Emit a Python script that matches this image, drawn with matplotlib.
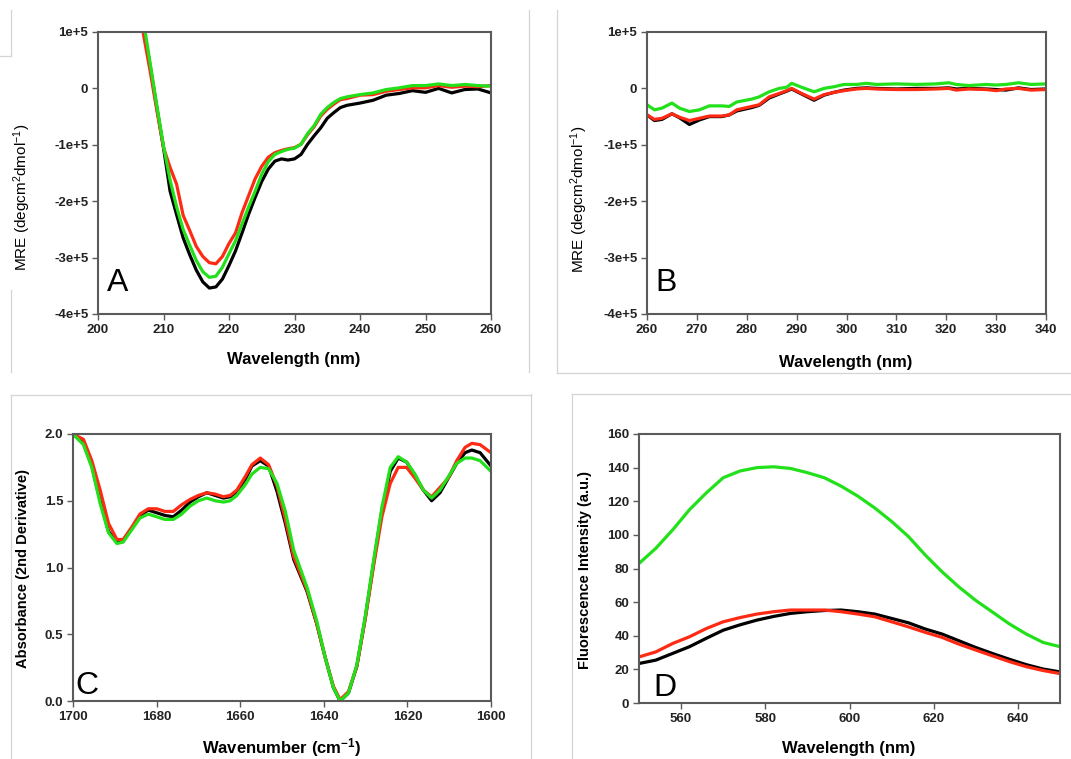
import matplotlib
matplotlib.use("Agg")
import matplotlib.pyplot as plt
from matplotlib.lines import Line2D
from matplotlib.ticker import FixedLocator, FuncFormatter

plt.rcParams['font.family'] = ['Liberation Sans', 'DejaVu Sans']
plt.rcParams['mathtext.default'] = 'regular'

# === Panel A: far-UV CD (MRE in units of 1e5) ===
wl_a = [206, 207, 208, 209, 210, 211, 212, 213, 214, 215, 216, 217, 218, 219, 220,
        221, 222, 223, 224, 225, 226, 227, 228, 229, 230, 231, 232, 233, 234, 235,
        236, 237, 238, 240, 242, 244, 246, 248, 250, 252, 254, 256, 258, 260]
a_black = [1.75, 1.05, 0.37, -0.35, -1.05, -1.82, -2.24, -2.65, -2.95, -3.22, -3.43, -3.54,
           -3.52, -3.38, -3.14, -2.88, -2.56, -2.23, -1.93, -1.65, -1.43, -1.29, -1.25, -1.27,
           -1.25, -1.17, -0.99, -0.84, -0.70, -0.53, -0.43, -0.34, -0.30, -0.26, -0.21, -0.12,
           -0.09, -0.04, -0.07, 0.00, -0.08, -0.02, -0.01, -0.08]
a_red = [1.65, 0.92, 0.28, -0.40, -1.05, -1.40, -1.70, -2.25, -2.52, -2.80, -2.98, -3.09,
         -3.11, -2.98, -2.75, -2.56, -2.20, -1.90, -1.60, -1.38, -1.22, -1.14, -1.10, -1.07,
         -1.05, -0.99, -0.82, -0.68, -0.49, -0.37, -0.28, -0.20, -0.18, -0.12, -0.11, -0.05,
         -0.02, 0.01, 0.01, 0.05, 0.02, 0.04, 0.03, 0.05]
a_green = [1.85, 1.15, 0.42, -0.32, -1.02, -1.62, -2.10, -2.50, -2.78, -3.05, -3.25, -3.35,
           -3.33, -3.17, -2.93, -2.70, -2.40, -2.10, -1.82, -1.52, -1.30, -1.17, -1.12, -1.08,
           -1.06, -0.99, -0.80, -0.66, -0.46, -0.34, -0.25, -0.18, -0.15, -0.11, -0.08, -0.02,
           0.01, 0.05, 0.05, 0.08, 0.05, 0.07, 0.05, 0.04]

# === Panel B: near-UV CD (MRE in units of 1e5) ===
wl_b = [260, 261.5, 263, 265, 266.5, 268.5, 270.5, 272.5, 275, 276.5, 278, 281, 282.5,
        284.5, 286.5, 288, 289, 291, 293.5, 295.5, 297.5, 299.5, 302, 304, 306, 310, 314,
        318, 320.5, 322, 324.5, 328, 330, 332, 334.5, 337, 340]
b_black = [-0.47, -0.57, -0.55, -0.45, -0.52, -0.64, -0.56, -0.50, -0.50, -0.47, -0.40, -0.34,
           -0.30, -0.17, -0.10, -0.05, -0.01, -0.10, -0.21, -0.12, -0.07, -0.03, 0.00, 0.01,
           0.00, -0.01, 0.00, 0.00, 0.01, -0.01, 0.00, -0.01, -0.02, -0.03, 0.01, -0.02, -0.01]
b_red = [-0.47, -0.55, -0.53, -0.45, -0.51, -0.57, -0.53, -0.49, -0.49, -0.47, -0.38, -0.32,
         -0.29, -0.15, -0.09, -0.04, 0.00, -0.09, -0.19, -0.11, -0.07, -0.04, -0.01, 0.00,
         -0.01, -0.02, -0.02, -0.01, 0.00, -0.03, -0.01, -0.02, -0.04, -0.01, 0.00, -0.03, -0.02]
b_green = [-0.29, -0.38, -0.35, -0.26, -0.35, -0.41, -0.38, -0.31, -0.31, -0.32, -0.24, -0.19,
           -0.15, -0.06, 0.00, 0.02, 0.09, 0.02, -0.06, 0.00, 0.03, 0.07, 0.07, 0.09, 0.07,
           0.08, 0.07, 0.08, 0.10, 0.07, 0.05, 0.07, 0.06, 0.07, 0.10, 0.07, 0.08]

# === Panel C: FTIR 2nd derivative ===
wn_c = [1700, 1697.5, 1695.5, 1693.5, 1691.5, 1689.5, 1688, 1686, 1684, 1682, 1680, 1678,
        1676, 1674, 1672, 1670, 1668, 1666, 1664, 1662.4, 1660.8, 1658.8, 1657.2, 1655.2,
        1653.2, 1651.2, 1649.2, 1647.2, 1644, 1641.7, 1639.7, 1637.7, 1636.1, 1634.1, 1632.1,
        1630.1, 1628.1, 1626.1, 1624.1, 1622.2, 1620.2, 1618.2, 1616.2, 1614.2, 1612.2,
        1610.2, 1608.2, 1606.2, 1604.6, 1602.6, 1600]
c_black = [2.00, 1.93, 1.76, 1.50, 1.27, 1.19, 1.20, 1.29, 1.39, 1.43, 1.41, 1.39, 1.38, 1.43,
           1.49, 1.53, 1.56, 1.54, 1.52, 1.53, 1.57, 1.66, 1.76, 1.80, 1.76, 1.57, 1.33, 1.06,
           0.82, 0.58, 0.33, 0.10, 0.00, 0.06, 0.26, 0.62, 1.03, 1.43, 1.72, 1.82, 1.79, 1.69,
           1.58, 1.50, 1.56, 1.67, 1.78, 1.86, 1.88, 1.86, 1.76]
c_red = [2.00, 1.96, 1.80, 1.58, 1.33, 1.21, 1.21, 1.30, 1.40, 1.44, 1.44, 1.42, 1.42, 1.47,
         1.51, 1.54, 1.56, 1.55, 1.53, 1.54, 1.58, 1.68, 1.77, 1.82, 1.77, 1.61, 1.36, 1.08,
         0.83, 0.58, 0.33, 0.11, 0.01, 0.07, 0.26, 0.61, 1.01, 1.38, 1.63, 1.75, 1.75, 1.67,
         1.58, 1.53, 1.60, 1.67, 1.80, 1.90, 1.93, 1.92, 1.86]
c_green = [2.00, 1.92, 1.75, 1.48, 1.26, 1.18, 1.19, 1.28, 1.37, 1.40, 1.38, 1.36, 1.36, 1.40,
           1.46, 1.50, 1.52, 1.50, 1.49, 1.50, 1.54, 1.62, 1.70, 1.75, 1.74, 1.63, 1.42, 1.13,
           0.85, 0.60, 0.33, 0.10, 0.00, 0.06, 0.27, 0.63, 1.05, 1.45, 1.75, 1.83, 1.79, 1.70,
           1.58, 1.52, 1.58, 1.68, 1.78, 1.82, 1.82, 1.80, 1.72]

# === Panel D: fluorescence ===
wl_d = [550, 554, 558, 562, 566, 570, 574, 578, 582, 586, 590, 594, 598, 602, 606, 610,
        614, 618, 622, 626, 630, 634, 638, 642, 646, 650]
d_black = [23.5, 25.5, 29.5, 33.5, 38.5, 43.3, 46.5, 49.3, 51.5, 53.3, 54.3, 55.0, 55.3, 54.3,
           52.9, 50.3, 47.7, 44.0, 41.0, 37.0, 33.0, 29.4, 26.0, 22.8, 20.2, 18.5]
d_red = [27.4, 30.4, 35.4, 39.4, 44.3, 48.3, 50.8, 52.9, 54.3, 55.3, 55.3, 55.3, 54.3, 52.9,
         51.3, 48.3, 45.3, 42.0, 39.0, 35.0, 31.5, 28.0, 24.6, 21.6, 19.3, 17.5]
d_green = [83, 92, 103, 115, 125, 134, 138, 140, 140.5, 139.5, 137, 134, 129, 123, 116, 108,
           99, 88, 78, 69, 61, 54, 47, 41, 36, 33.5]

BLACK, RED, GREEN = '#000000', '#ff2a14', '#22e01a'
W, H = 1071, 759

fig = plt.figure(figsize=(W / 100, H / 100), dpi=100)


def make_axes(left, top, right, bottom):
    ax = fig.add_axes([left / W, 1 - bottom / H, (right - left) / W, (bottom - top) / H])
    for s in ax.spines.values():
        s.set_color('#5a5a5a')
        s.set_linewidth(1.5)
    ax.tick_params(direction='out', length=4, width=1, color='#5a5a5a', pad=3,
                   labelsize=9.5, labelcolor='#222222')
    return ax


def bold_ticks(ax):
    for lab in ax.get_xticklabels() + ax.get_yticklabels():
        lab.set_fontweight('bold')


def mre_fmt(v, pos):
    if abs(v) < 1e-9:
        return '0'
    return '%de+5' % round(v)


def plot3(ax, x, k, r, g):
    ax.plot(x, k, color=BLACK, lw=2.3)
    ax.plot(x, r, color=RED, lw=2.3)
    ax.plot(x, g, color=GREEN, lw=2.3)


# --- A ---
axA = make_axes(98, 32, 491, 314)
plot3(axA, wl_a, a_black, a_red, a_green)
axA.set_xlim(200, 260)
axA.set_ylim(-4, 1)
axA.xaxis.set_major_locator(FixedLocator(range(200, 261, 10)))
axA.yaxis.set_major_locator(FixedLocator([-4, -3, -2, -1, 0, 1]))
axA.yaxis.set_major_formatter(FuncFormatter(mre_fmt))
bold_ticks(axA)
axA.text(0.022, 0.055, 'A', transform=axA.transAxes, fontsize=23, ha='left', va='bottom')

# --- B ---
axB = make_axes(647, 32, 1046, 314)
plot3(axB, wl_b, b_black, b_red, b_green)
axB.set_xlim(260, 340)
axB.set_ylim(-4, 1)
axB.xaxis.set_major_locator(FixedLocator(range(260, 341, 10)))
axB.yaxis.set_major_locator(FixedLocator([-4, -3, -2, -1, 0, 1]))
axB.yaxis.set_major_formatter(FuncFormatter(mre_fmt))
bold_ticks(axB)
axB.text(0.022, 0.055, 'B', transform=axB.transAxes, fontsize=23, ha='left', va='bottom')

# --- C ---
axC = make_axes(73, 434, 491, 701)
plot3(axC, wn_c, c_black, c_red, c_green)
axC.set_xlim(1700, 1600)
axC.set_ylim(0, 2.0)
axC.xaxis.set_major_locator(FixedLocator(range(1600, 1701, 20)))
axC.yaxis.set_major_locator(FixedLocator([0, 0.5, 1.0, 1.5, 2.0]))
axC.yaxis.set_major_formatter(FuncFormatter(lambda v, p: '%.1f' % v))
bold_ticks(axC)
axC.text(0.006, 0.0, 'C', transform=axC.transAxes, fontsize=23, ha='left', va='bottom')

# --- D ---
axD = make_axes(639, 434, 1060, 703)
plot3(axD, wl_d, d_black, d_red, d_green)
axD.set_xlim(550, 650)
axD.set_ylim(0, 160)
axD.xaxis.set_major_locator(FixedLocator(range(560, 641, 20)))
axD.yaxis.set_major_locator(FixedLocator(range(0, 161, 20)))
bold_ticks(axD)
axD.text(0.035, 0.0, 'D', transform=axD.transAxes, fontsize=23, ha='left', va='bottom')


def ftext(x, y, s, **kw):
    fig.text(x / W, 1 - y / H, s, ha='center', va='center', **kw)


mre = 'MRE (degcm$^{2}$dmol$^{-1}$)'
ftext(22, 197, mre, rotation=90, fontsize=11)
ftext(579, 199, mre, rotation=90, fontsize=11)
ftext(23, 568, 'Absorbance (2nd Derivative)', rotation=90, fontsize=10.5, fontweight='bold')
ftext(585, 570, 'Fluorescence Intensity (a.u.)', rotation=90, fontsize=10.5, fontweight='bold')
ftext(294, 360, 'Wavelength (nm)', fontsize=12, fontweight='bold')
ftext(846, 362, 'Wavelength (nm)', fontsize=12, fontweight='bold')
ftext(282, 748, 'Wavenumber (cm$^{-1}$)', fontsize=12, fontweight='bold')
ftext(849, 748, 'Wavelength (nm)', fontsize=12, fontweight='bold')

# faint frame lines of the original composite
frame_lines = [
    ((11, 10), (11, 56)), ((0, 56), (11, 56)),
    ((11, 290), (11, 372)),
    ((529, 10), (529, 372)),
    ((557, 10), (557, 373)), ((557, 373), (1071, 373)),
    ((11, 395), (531, 395)), ((11, 395), (11, 759)), ((531, 394), (531, 759)),
    ((572, 394), (1071, 394)), ((572, 394), (572, 759)),
]
for (x0, y0), (x1, y1) in frame_lines:
    fig.add_artist(Line2D([x0 / W, x1 / W], [1 - y0 / H, 1 - y1 / H],
                          color='#d4d4d4', lw=0.9, transform=fig.transFigure))

fig.savefig('out.png', dpi=100)
